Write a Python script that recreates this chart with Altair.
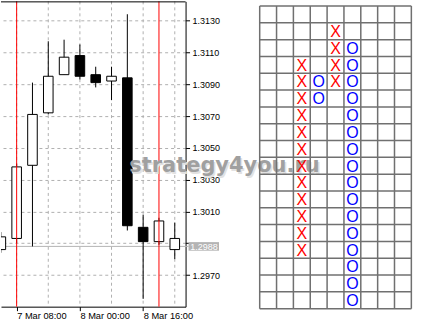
import altair as alt
import pandas as pd

# ---------------- candlestick data (H4 bars, hours from 7 Mar 00:00) ----------------
hours  = [4, 8, 12, 16, 20, 24, 28, 32, 36, 40, 44, 48]
opens  = [1.2986, 1.2993, 1.3039, 1.3072, 1.3096, 1.3108, 1.3096, 1.3092, 1.3094, 1.3000, 1.2991, 1.2986]
highs  = [1.2997, 1.3040, 1.3091, 1.3117, 1.3118, 1.3115, 1.3101, 1.3101, 1.3134, 1.3008, 1.3006, 1.3003]
lows   = [1.2984, 1.2990, 1.2988, 1.3071, 1.3096, 1.3093, 1.3088, 1.3080, 1.2998, 1.2955, 1.2989, 1.2980]
closes = [1.2994, 1.3038, 1.3071, 1.3095, 1.3107, 1.3095, 1.3091, 1.3095, 1.3001, 1.2991, 1.3004, 1.2993]

tick_hours = [8, 24, 40]
tick_labels = ["7 Mar 08:00", "8 Mar 00:00", "8 Mar 16:00"]
grid_hours = [8, 16, 24, 32, 40, 48]
separator_hours = [8, 44]
price_ticks = [1.2970, 1.2990, 1.3010, 1.3030, 1.3050, 1.3070, 1.3090, 1.3110, 1.3130]
current_price = 1.2988

# ---------------- point & figure data ----------------
pf_columns = [2, 3, 4, 5]
pf_symbols = ["X", "O", "X", "O"]
pf_top_row = [3, 4, 1, 2]
pf_bottom_row = [14, 5, 4, 17]
pf_ncols = 9
pf_nrows = 18

# ---------------- tables ----------------
candles = pd.DataFrame(dict(t=hours, open=opens, high=highs, low=lows, close=closes))
candles["top"] = candles[["open", "close"]].max(axis=1)
candles["bottom"] = candles[["open", "close"]].min(axis=1)
candles["dir"] = ["up" if c >= o else "down" for o, c in zip(opens, closes)]

xs = alt.Scale(domain=[4.04, 50.73], nice=False, zero=False, padding=0)
ys = alt.Scale(domain=[1.29501, 1.31421], nice=False, zero=False, padding=0)

label_expr = " : ".join(f"datum.value == {h} ? '{l}'" for h, l in zip(tick_hours, tick_labels)) + " : ''"

FONT = "Liberation Sans"

x_axis = alt.Axis(values=tick_hours, tickCount=len(tick_hours) + 2, labelExpr=label_expr,
                  grid=False, orient="bottom",
                  domainColor="black", tickColor="black", tickSize=4, domainWidth=1,
                  labelAlign="left", labelPadding=1, labelFont=FONT, labelFontSize=9.3,
                  labelColor="black", title=None, labelOverlap=False, labelBound=False)
y_axis = alt.Axis(values=price_ticks, tickCount=len(price_ticks) + 2, orient="right", grid=True,
                  gridDash=[3, 3], gridColor="#b0b0b0", gridWidth=1, domainColor="black",
                  tickColor="black", tickSize=4, labelPadding=2.5, labelFont=FONT,
                  labelFontSize=9, labelColor="black", title=None, labelOverlap=False,
                  labelBound=False,
                  labelExpr="abs(datum.value - 1.299) < 0.00001 ? '' : format(datum.value, '.4f')")

base = alt.Chart(candles)

axes_layer = base.mark_rule(opacity=0).encode(
    x=alt.X("t:Q", scale=xs, axis=x_axis),
    y=alt.Y("low:Q", scale=ys, axis=y_axis),
)

vgrid = alt.Chart(pd.DataFrame({"t": grid_hours})).mark_rule(
    color="#b0b0b0", strokeDash=[3, 3], strokeWidth=1).encode(x=alt.X("t:Q", scale=xs))

price_line = alt.Chart(pd.DataFrame({"p": [current_price]})).mark_rule(
    color="#b4b4b4", strokeWidth=1).encode(
    y=alt.Y("p:Q", scale=ys), x=alt.value(0), x2=alt.value(188))

wicks = base.mark_rule(color="black", strokeWidth=1, clip=True).encode(
    x=alt.X("t:Q", scale=xs), y=alt.Y("low:Q", scale=ys), y2="high:Q")

bodies = base.mark_bar(width=9.6, stroke="black", strokeWidth=1, clip=True).encode(
    x=alt.X("t:Q", scale=xs), y=alt.Y("bottom:Q", scale=ys), y2="top:Q",
    fill=alt.Fill("dir:N", scale=alt.Scale(domain=["up", "down"], range=["white", "black"]), legend=None))

red_lines = alt.Chart(pd.DataFrame({"t": separator_hours})).mark_rule(
    color="#ff0000", strokeWidth=1).encode(x=alt.X("t:Q", scale=xs))

top_border = alt.Chart(pd.DataFrame({"a": [0]})).mark_rule(color="black", strokeWidth=1).encode(
    x=alt.value(0), x2=alt.value(185), y=alt.value(0.5))

half_box = 0.00027
price_df = pd.DataFrame({"p": [current_price], "p1": [current_price + half_box],
                         "p0": [current_price - half_box], "lbl": [f"{current_price:.4f}"]})
price_box = alt.Chart(price_df).mark_rect(color="#b4b4b4").encode(
    x=alt.value(188), x2=alt.value(218.5), y=alt.Y("p1:Q", scale=ys), y2="p0:Q")
price_text = alt.Chart(price_df).mark_text(color="white", font=FONT, fontSize=9, align="center",
                                           baseline="middle", dy=0.5).encode(
    x=alt.value(203.5), y=alt.Y("p:Q", scale=ys), text="lbl:N")

wm = pd.DataFrame({"w": ["strategy4you.ru"]})
wm_shadow = alt.Chart(wm).mark_text(font="DejaVu Sans", fontWeight="bold", fontSize=21,
                                    color="#e2e2e2", align="center", baseline="alphabetic").encode(
    x=alt.value(225.5), y=alt.value(173), text="w:N")
wm_text = alt.Chart(wm).mark_text(font="DejaVu Sans", fontWeight="bold", fontSize=21,
                                  color="#a0a0a0", align="center", baseline="alphabetic").encode(
    x=alt.value(224), y=alt.value(171.5), text="w:N")

left = alt.layer(axes_layer, vgrid, price_line, wicks, bodies, red_lines, top_border,
                 price_box, price_text, wm_shadow, wm_text).properties(width=185, height=306)

# ---------------- point & figure panel ----------------
cells = []
for c, s, t, b in zip(pf_columns, pf_symbols, pf_top_row, pf_bottom_row):
    for r in range(t, b + 1):
        cells.append({"cx": c + 0.5, "cy": r + 0.5, "sym": s})
cells = pd.DataFrame(cells)

pfx = alt.Scale(domain=[0, pf_ncols], range=[0.3, 152.3], nice=False, zero=False)
pfy = alt.Scale(domain=[0, pf_nrows], range=[4.7, 308], nice=False, zero=False)

vl = pd.DataFrame({"c": list(range(pf_ncols + 1)), "y0": 0, "y1": pf_nrows})
hl = pd.DataFrame({"r": list(range(pf_nrows + 1)), "x0": 0, "x1": pf_ncols})

pf_v = alt.Chart(vl).mark_rule(color="#707070", strokeWidth=1.5).encode(
    x=alt.X("c:Q", scale=pfx, axis=None), y=alt.Y("y0:Q", scale=pfy, axis=None), y2="y1:Q")
pf_h = alt.Chart(hl).mark_rule(color="#707070", strokeWidth=1.5).encode(
    y=alt.Y("r:Q", scale=pfy, axis=None), x=alt.X("x0:Q", scale=pfx, axis=None), x2="x1:Q")
pf_sym = alt.Chart(cells).mark_text(font=FONT, fontSize=16, align="center",
                                     baseline="alphabetic", dy=5.8).encode(
    x=alt.X("cx:Q", scale=pfx, axis=None), y=alt.Y("cy:Q", scale=pfy, axis=None),
    text="sym:N",
    color=alt.Color("sym:N", scale=alt.Scale(domain=["X", "O"], range=["#ff0000", "#0000ff"]), legend=None))

right = alt.layer(pf_v, pf_h, pf_sym).properties(width=173, height=306)

chart = alt.HConcatChart(hconcat=[left, right], spacing=74, bounds="flush").properties(
    padding=0, background="white").configure_view(stroke=None)

chart.save("out.html", embed_options={"renderer": "svg", "actions": False})
